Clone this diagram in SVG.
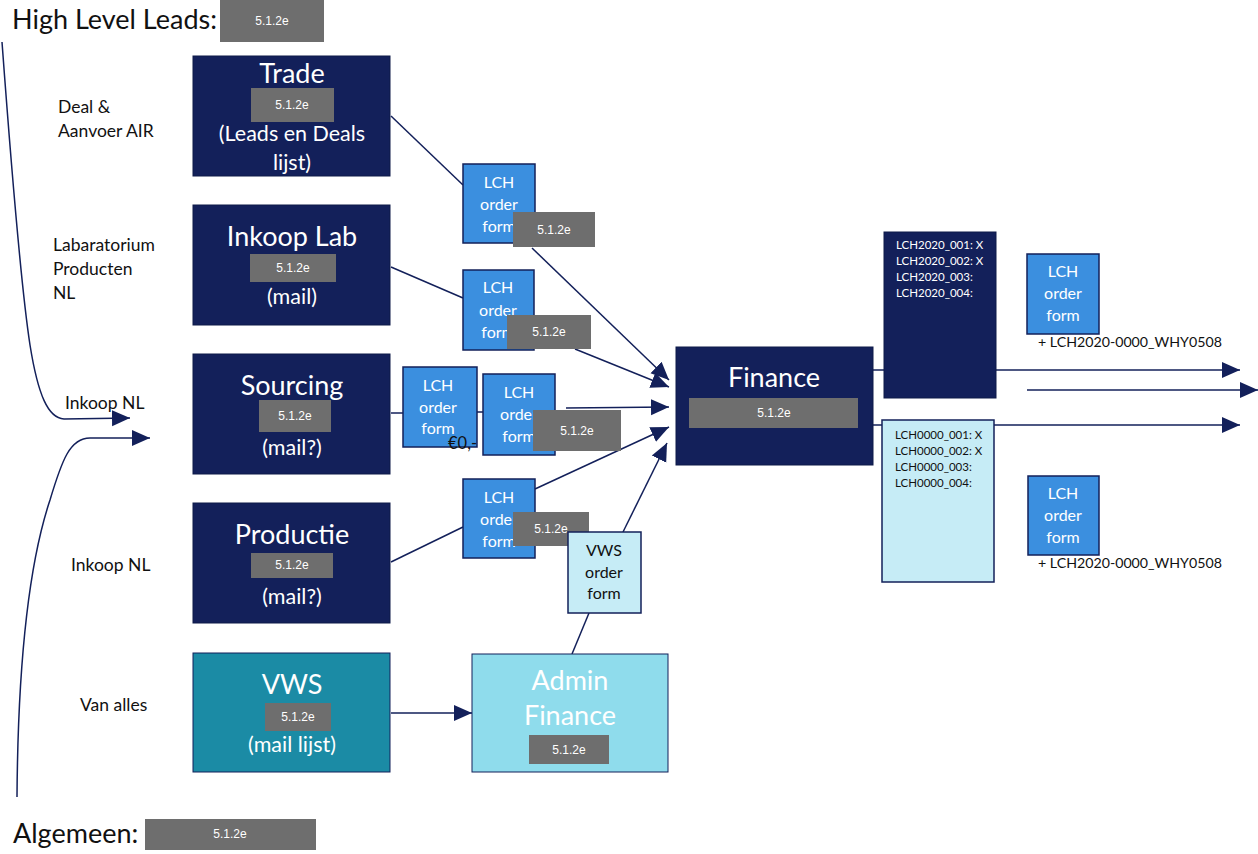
<svg xmlns="http://www.w3.org/2000/svg" width="1258" height="854" viewBox="0 0 1258 854">
<defs>
<style>
.t{font-family:Lato,"Noto Sans",sans-serif}
.big{font-size:27px;fill:#fff;text-anchor:middle}
.sub{font-size:21.5px;fill:#fff;text-anchor:middle}
.lbl{font-size:17.5px;fill:#111}
.red{fill:#6e6e6e}
.rt{font-family:"Liberation Sans",Arial,sans-serif;font-size:12px;fill:#fff;text-anchor:middle}
.navy{fill:#13205a;stroke:#0e1a48;stroke-width:1}
.blue{fill:#3b8fdf;stroke:#13205a;stroke-width:1.5}
.pale{fill:#c6ecf6;stroke:#13205a;stroke-width:1.5}
.ft{font-size:16px;fill:#fff;text-anchor:middle}
.ln{fill:none;stroke:#13205a;stroke-width:1.5}
.lst{font-size:11.5px;fill:#fff}
</style>
<marker id="ah" markerUnits="userSpaceOnUse" markerWidth="20" markerHeight="20" viewBox="0 0 20 20" refX="18" refY="10" orient="auto">
<path d="M0,2 L18,10 L0,18 Z" fill="#13205a"/>
</marker>
</defs>
<rect width="1258" height="854" fill="#fff"/>

<g id="header">
<text class="t" x="12" y="29" font-size="27" fill="#111">High Level Leads:</text>
<rect class="red" x="220" y="0" width="104" height="42"/>
<text class="rt" x="272" y="25">5.1.2e</text>
</g>

<g id="side-labels" class="t">
<text class="lbl" x="58" y="113">Deal &amp;</text>
<text class="lbl" x="58" y="137">Aanvoer AIR</text>
<text class="lbl" x="53" y="251">Labaratorium</text>
<text class="lbl" x="53" y="275">Producten</text>
<text class="lbl" x="53" y="299">NL</text>
<text class="lbl" x="65" y="409">Inkoop NL</text>
<text class="lbl" x="71" y="571">Inkoop NL</text>
<text class="lbl" x="80" y="711">Van alles</text>
</g>

<g id="connectors">
<path class="ln" d="M2,42 C10,150 20,280 30,345 C38,395 48,418 64,419 L130,418" marker-end="url(#ah)"/>
<path class="ln" d="M17,797 C18,650 30,560 50,500 C62,460 70,438 90,438 L150,438" marker-end="url(#ah)"/>
<line class="ln" x1="391" y1="116" x2="463" y2="185"/>
<line class="ln" x1="532" y1="248" x2="669" y2="380" marker-end="url(#ah)"/>
<line class="ln" x1="391" y1="267" x2="463" y2="298"/>
<line class="ln" x1="575" y1="349" x2="669" y2="387" marker-end="url(#ah)"/>
<line class="ln" x1="391" y1="413" x2="403" y2="413"/>
<line class="ln" x1="477" y1="412" x2="483" y2="412"/>
<line class="ln" x1="566" y1="408" x2="669" y2="407" marker-end="url(#ah)"/>
<line class="ln" x1="391" y1="562" x2="463" y2="527"/>
<line class="ln" x1="535" y1="489" x2="669" y2="427" marker-end="url(#ah)"/>
<line class="ln" x1="623" y1="532" x2="667" y2="443" marker-end="url(#ah)"/>
<line class="ln" x1="572" y1="654" x2="589" y2="613"/>
<line class="ln" x1="391" y1="713" x2="472" y2="713" marker-end="url(#ah)"/>
<line class="ln" x1="873" y1="370" x2="1240" y2="370" marker-end="url(#ah)"/>
<line class="ln" x1="1027" y1="390" x2="1258" y2="390" marker-end="url(#ah)"/>
<line class="ln" x1="873" y1="425" x2="1240" y2="425" marker-end="url(#ah)"/>
</g>

<g id="trade" class="t">
<rect class="navy" x="193" y="56" width="197" height="120"/>
<text class="big" x="292" y="83">Trade</text>
<rect class="red" x="251" y="88" width="83" height="34"/>
<text class="rt" x="292" y="109">5.1.2e</text>
<text class="sub" x="292" y="141">(Leads en Deals</text>
<text class="sub" x="292" y="170">lijst)</text>
</g>

<g id="inkoop-lab" class="t">
<rect class="navy" x="193" y="205" width="197" height="120"/>
<text class="big" x="292" y="246">Inkoop Lab</text>
<rect class="red" x="250" y="254" width="86" height="28"/>
<text class="rt" x="293" y="272">5.1.2e</text>
<text class="sub" x="292" y="304">(mail)</text>
</g>

<g id="sourcing" class="t">
<rect class="navy" x="193" y="354" width="197" height="120"/>
<text class="big" x="292" y="395">Sourcing</text>
<rect class="red" x="259" y="400" width="72" height="32"/>
<text class="rt" x="295" y="420">5.1.2e</text>
<text class="sub" x="292" y="455">(mail?)</text>
</g>

<g id="productie" class="t">
<rect class="navy" x="193" y="503" width="197" height="120"/>
<text class="big" x="292" y="544">Productie</text>
<rect class="red" x="251" y="553" width="82" height="25"/>
<text class="rt" x="292" y="569">5.1.2e</text>
<text class="sub" x="292" y="604">(mail?)</text>
</g>

<g id="vws" class="t">
<rect x="193" y="653" width="197" height="119" fill="#1b8ba5" stroke="#13205a" stroke-width="1"/>
<text class="big" x="292" y="694">VWS</text>
<rect class="red" x="265" y="703" width="66" height="28"/>
<text class="rt" x="298" y="721">5.1.2e</text>
<text class="sub" x="292" y="752">(mail lijst)</text>
</g>

<g id="admin-finance" class="t">
<rect x="472" y="654" width="196" height="118" fill="#8fdcec" stroke="#13205a" stroke-width="1"/>
<text class="big" x="570" y="690">Admin</text>
<text class="big" x="570" y="725">Finance</text>
<rect class="red" x="529" y="735" width="80" height="29"/>
<text class="rt" x="569" y="754">5.1.2e</text>
</g>

<g id="lch-1" class="t">
<rect class="blue" x="463" y="164" width="72" height="79"/>
<text class="ft" x="499" y="188">LCH</text>
<text class="ft" x="499" y="210">order</text>
<text class="ft" x="499" y="232">form</text>
<rect class="red" x="513" y="212" width="82" height="35"/>
<text class="rt" x="554" y="234">5.1.2e</text>
</g>

<g id="lch-2" class="t">
<rect class="blue" x="463" y="270" width="71" height="80"/>
<text class="ft" x="498" y="293">LCH</text>
<text class="ft" x="498" y="316">order</text>
<text class="ft" x="498" y="338">form</text>
<rect class="red" x="507" y="315" width="84" height="34"/>
<text class="rt" x="549" y="336">5.1.2e</text>
</g>

<g id="lch-3" class="t">
<rect class="blue" x="403" y="367" width="74" height="80"/>
<text class="ft" x="438" y="391">LCH</text>
<text class="ft" x="438" y="413">order</text>
<text class="ft" x="438" y="434">form</text>
<text x="448" y="449" font-family="Lato,'Noto Sans',sans-serif" font-size="16.5" fill="#111">€0,-</text>
</g>

<g id="lch-4" class="t">
<rect class="blue" x="483" y="374" width="72" height="81"/>
<text class="ft" x="519" y="398">LCH</text>
<text class="ft" x="519" y="420">order</text>
<text class="ft" x="519" y="442">form</text>
<rect class="red" x="533" y="410" width="88" height="41"/>
<text class="rt" x="577" y="435">5.1.2e</text>
</g>

<g id="lch-5" class="t">
<rect class="blue" x="463" y="479" width="72" height="79"/>
<text class="ft" x="499" y="503">LCH</text>
<text class="ft" x="499" y="525">order</text>
<text class="ft" x="499" y="547">form</text>
<rect class="red" x="513" y="512" width="76" height="34"/>
<text class="rt" x="551" y="533">5.1.2e</text>
</g>

<g id="vws-order" class="t">
<rect class="pale" x="568" y="532" width="73" height="81"/>
<text class="ft" x="604" y="556" style="fill:#111">VWS</text>
<text class="ft" x="604" y="578" style="fill:#111">order</text>
<text class="ft" x="604" y="599" style="fill:#111">form</text>
</g>

<g id="finance" class="t">
<rect class="navy" x="676" y="347" width="197" height="118"/>
<text class="big" x="774" y="387">Finance</text>
<rect class="red" x="689" y="398" width="169" height="30"/>
<text class="rt" x="774" y="417">5.1.2e</text>
</g>

<g id="list-2020" class="t">
<rect class="navy" x="884" y="232" width="112" height="166"/>
<text class="lst" x="896" y="249">LCH2020_001: X</text>
<text class="lst" x="896" y="265">LCH2020_002: X</text>
<text class="lst" x="896" y="281">LCH2020_003:</text>
<text class="lst" x="896" y="297">LCH2020_004:</text>
</g>

<g id="list-0000" class="t">
<rect class="pale" x="882" y="420" width="112" height="162"/>
<text class="lst" x="895" y="439" style="fill:#111">LCH0000_001: X</text>
<text class="lst" x="895" y="455" style="fill:#111">LCH0000_002: X</text>
<text class="lst" x="895" y="471" style="fill:#111">LCH0000_003:</text>
<text class="lst" x="895" y="487" style="fill:#111">LCH0000_004:</text>
</g>

<g id="lch-right-top" class="t">
<rect class="blue" x="1027" y="254" width="72" height="80"/>
<text class="ft" x="1063" y="277">LCH</text>
<text class="ft" x="1063" y="299">order</text>
<text class="ft" x="1063" y="321">form</text>
<text x="1038" y="347" font-size="14.2" fill="#111">+ LCH2020-0000_WHY0508</text>
</g>

<g id="lch-right-bottom" class="t">
<rect class="blue" x="1028" y="476" width="71" height="79"/>
<text class="ft" x="1063" y="499">LCH</text>
<text class="ft" x="1063" y="521">order</text>
<text class="ft" x="1063" y="543">form</text>
<text x="1038" y="568" font-size="14.2" fill="#111">+ LCH2020-0000_WHY0508</text>
</g>

<g id="footer">
<text class="t" x="13" y="843" font-size="27" fill="#111">Algemeen:</text>
<rect class="red" x="145" y="819" width="171" height="31"/>
<text class="rt" x="230" y="838">5.1.2e</text>
</g>
</svg>
